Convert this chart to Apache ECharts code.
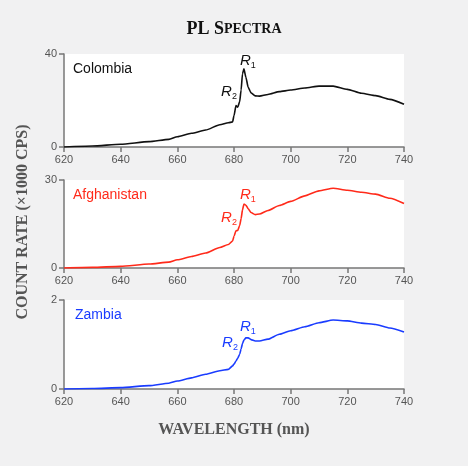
<!DOCTYPE html>
<html>
<head>
<meta charset="utf-8">
<script src="https://cdn.jsdelivr.net/npm/echarts@6/dist/echarts.min.js"></script>
<style>
  html, body { margin: 0; padding: 0; background: #f1f1f2; }
  #chart { width: 468px; height: 466px; }
</style>
</head>
<body>
<div id="chart"></div>
<script>
// wavelength samples (nm), denser around the R lines
const wavelengths = [620, 630, 640, 650, 657, 660, 665, 670, 675, 678, 679.5, 680, 680.7, 681.3, 682, 682.5, 683, 683.5, 684.2, 685, 686, 687.5, 689, 692, 696, 700, 705, 710, 715, 720, 725, 730, 735, 740];

// count rate (x1000 cps)
const colombia    = [0, 0.4, 1.2, 2.3, 3.3, 4.4, 5.9, 7.3, 9.6, 10.4, 10.8, 13.5, 17.8, 17.1, 19.5, 24.5, 31.5, 33.6, 30.0, 25.7, 23.3, 22.0, 21.9, 22.6, 23.8, 24.5, 25.4, 26.2, 26.2, 24.8, 23.1, 22.1, 20.5, 18.4];
const afghanistan = [0, 0.2, 0.56, 1.35, 2.0, 2.8, 3.9, 5.1, 7.0, 8.0, 9.2, 10.8, 12.7, 12.8, 14.5, 16.8, 19.8, 21.8, 21.4, 20.2, 18.9, 18.2, 18.4, 19.6, 21.3, 22.7, 24.6, 26.3, 27.2, 26.5, 25.8, 25.2, 23.8, 22.0];
const zambia      = [0, 0.01, 0.03, 0.075, 0.13, 0.18, 0.25, 0.33, 0.41, 0.44, 0.52, 0.56, 0.63, 0.69, 0.78, 0.90, 1.02, 1.10, 1.15, 1.15, 1.11, 1.08, 1.08, 1.12, 1.23, 1.31, 1.40, 1.49, 1.55, 1.53, 1.48, 1.45, 1.37, 1.28];

const panels = [
  { name: 'Colombia',    color: '#111111', data: colombia,    yMax: 40,
    r1: [683.5, 33.6], r1Off: [4, -8], r2: [680.7, 17.8], r2Off: [-7, -14] },
  { name: 'Afghanistan', color: '#ff2a1a', data: afghanistan, yMax: 30,
    r1: [683.5, 21.8], r1Off: [4, -9],  r2: [680.7, 12.7], r2Off: [-7, -13] },
  { name: 'Zambia',      color: '#1a3cff', data: zambia,      yMax: 2,
    r1: [684.2, 1.15], r1Off: [2, -11], r2: [680.7, 0.63], r2Off: [-6, -18] }
];

const grids = [
  { left: 64, right: 64, top: 54,  height: 93 },
  { left: 64, right: 64, top: 180, height: 88 },
  { left: 64, right: 64, top: 300, height: 89 }
];

const axisGray = '#777';
const labelGray = '#555';
const sans = 'Helvetica, "Liberation Sans", Arial, sans-serif';
const serif = '"Liberation Serif", "DejaVu Serif", serif';

function peakLabel(num) {
  return '{r|R}{s|' + num + '}';
}
const peakRich = (color) => ({
  r: { fontSize: 15, fontStyle: 'italic', color: color, fontFamily: sans, lineHeight: 18 },
  s: { fontSize: 9, color: color, fontFamily: sans, verticalAlign: 'bottom', lineHeight: 9 }
});

const option = {
  backgroundColor: '#f1f1f2',
  animation: false,
  title: {
    text: '{a|PL S}{b|PECTRA}',
    left: 'center',
    top: 15,
    textStyle: {
      rich: {
        a: { fontFamily: serif, fontWeight: 'bold', fontSize: 18, color: '#111' },
        b: { fontFamily: serif, fontWeight: 'bold', fontSize: 14, color: '#111' }
      }
    }
  },
  grid: grids.map(g => Object.assign({ show: true, backgroundColor: '#fff', borderWidth: 0 }, g)),
  xAxis: panels.map((p, i) => ({
    type: 'value',
    gridIndex: i,
    min: 620,
    max: 740,
    interval: 20,
    axisLine: { show: true, lineStyle: { color: axisGray, width: 1.5 } },
    axisTick: { show: true, length: 5, lineStyle: { color: axisGray, width: 1.5 } },
    axisLabel: { color: labelGray, fontSize: 11, fontFamily: sans, margin: 7 },
    splitLine: { show: false }
  })),
  yAxis: panels.map((p, i) => ({
    type: 'value',
    gridIndex: i,
    min: 0,
    max: p.yMax,
    interval: p.yMax,
    axisLine: { show: true, lineStyle: { color: axisGray, width: 1.5 } },
    axisTick: { show: true, length: 5, lineStyle: { color: axisGray, width: 1.5 } },
    axisLabel: { color: labelGray, fontSize: 11, fontFamily: sans, margin: 7 },
    splitLine: { show: false }
  })),
  series: panels.map((p, i) => ({
    type: 'line',
    name: p.name,
    xAxisIndex: i,
    yAxisIndex: i,
    data: wavelengths.map((w, k) => [w, p.data[k]]),
    smooth: 0.2,
    smoothMonotone: 'x',
    showSymbol: false,
    lineStyle: { color: p.color, width: 1.6 },
    markPoint: {
      symbol: 'circle',
      symbolSize: 0,
      silent: true,
      data: [
        { coord: p.r1, label: { show: true, position: 'inside', offset: p.r1Off, formatter: peakLabel(1), rich: peakRich(p.color) } },
        { coord: p.r2, label: { show: true, position: 'inside', offset: p.r2Off, formatter: peakLabel(2), rich: peakRich(p.color) } }
      ]
    }
  })),
  graphic: [
    { type: 'text', left: 73, top: 62, style: { text: 'Colombia', fontSize: 14, fontFamily: sans, fill: panels[0].color } },
    { type: 'text', left: 73, top: 188, style: { text: 'Afghanistan', fontSize: 14, fontFamily: sans, fill: panels[1].color } },
    { type: 'text', left: 75, top: 308, style: { text: 'Zambia', fontSize: 14, fontFamily: sans, fill: panels[2].color } },
    {
      type: 'text', x: 23, y: 222, rotation: Math.PI / 2,
      style: { text: 'COUNT RATE (×1000 CPS)', fontSize: 16, fontFamily: serif, fontWeight: 'bold',
               fill: '#555', align: 'center', verticalAlign: 'middle' }
    },
    {
      type: 'text', x: 234, y: 430,
      style: { text: 'WAVELENGTH (nm)', fontSize: 16, fontFamily: serif, fontWeight: 'bold',
               fill: '#555', align: 'center', verticalAlign: 'middle' }
    }
  ]
};

const chart = echarts.init(document.getElementById('chart'));
chart.setOption(option);
</script>
</body>
</html>
